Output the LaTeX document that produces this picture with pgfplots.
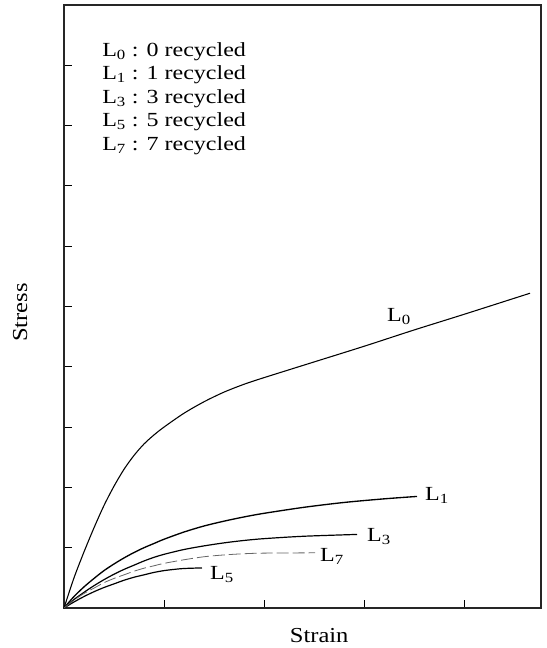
\documentclass[border=0pt]{standalone}
\usepackage{fontspec}
\setmainfont{Liberation Serif}
\newfontfamily\widefont[FakeStretch=1.2]{Liberation Serif}
\newfontfamily\titlefont[FakeStretch=1.15]{Liberation Serif}
\usepackage{pgfplots}
\pgfplotsset{compat=1.18}

% one drawing unit = 0.75pt
\newcommand{\lbl}{\widefont\fontsize{15}{18}\selectfont}
\newcommand{\axl}{\titlefont\fontsize{16}{19}\selectfont}

\begin{document}
\begin{tikzpicture}
% page extent around the axis box
\path (-48pt,-30pt) rectangle (361.5pt,456pt);
\begin{axis}[
  scale only axis,
  width=357.75pt, height=452.25pt,
  xmin=0, xmax=4.77, ymin=0, ymax=10,
  axis line style={line width=0.8pt, black!85},
  xtick={1,2,3,4}, ytick={1,2,3,4,5,6,7,8,9},
  xticklabels={}, yticklabels={},
  xtick pos=bottom, ytick pos=left,
  tick align=inside,
  major tick length=6pt,
  tick style={line width=0.7pt, black},
  clip=false,
]
% stress-strain curves
\addplot[black, line width=0.8pt, smooth] coordinates {
  (0,0) (0.1,0.50) (0.2,0.93) (0.3,1.33) (0.4,1.70) (0.5,2.02)
  (0.6,2.30) (0.7,2.53) (0.8,2.72) (0.9,2.87) (1.0,3.00) (1.2,3.23)
  (1.4,3.42) (1.6,3.58) (1.8,3.71) (2.0,3.82) (2.5,4.08) (3.0,4.34)
  (3.5,4.61) (4.0,4.87) (4.66,5.22)};
\addplot[black, line width=1pt, smooth] coordinates {
  (0,0) (0.1,0.19) (0.2,0.35) (0.3,0.49) (0.4,0.62) (0.5,0.73)
  (0.6,0.83) (0.7,0.92) (0.8,1.00) (0.9,1.07) (1.0,1.14) (1.2,1.26)
  (1.4,1.36) (1.6,1.44) (1.8,1.51) (2.0,1.57) (2.4,1.67) (2.8,1.75)
  (3.2,1.81) (3.53,1.85)};
\addplot[black, line width=0.9pt, smooth] coordinates {
  (0,0) (0.1,0.14) (0.2,0.26) (0.3,0.37) (0.4,0.47) (0.5,0.56)
  (0.6,0.64) (0.7,0.71) (0.8,0.78) (0.9,0.84) (1.0,0.89) (1.2,0.97)
  (1.4,1.03) (1.6,1.08) (1.8,1.12) (2.0,1.15) (2.4,1.19) (2.93,1.22)};
\addplot[black, line width=0.9pt, smooth] coordinates {
  (0,0) (0.1,0.10) (0.2,0.19) (0.3,0.27) (0.4,0.34) (0.5,0.40)
  (0.6,0.46) (0.7,0.51) (0.8,0.55) (0.9,0.59) (1.0,0.62) (1.1,0.64)
  (1.2,0.655) (1.38,0.665)};
\addplot[black!60, line width=0.6pt, smooth, dash pattern=on 9pt off 3pt] coordinates {
  (0,0) (0.1,0.13) (0.2,0.24) (0.3,0.33) (0.4,0.42) (0.5,0.49)
  (0.6,0.55) (0.7,0.61) (0.8,0.66) (0.9,0.70) (1.0,0.74) (1.2,0.80)
  (1.4,0.85) (1.6,0.88) (1.8,0.90) (2.0,0.91) (2.51,0.915)};

% curve labels
\node[font=\lbl] at (axis cs:3.35,4.84) {L\textsubscript{0}};
\node[font=\lbl] at (axis cs:3.73,1.86) {L\textsubscript{1}};
\node[font=\lbl] at (axis cs:3.15,1.18) {L\textsubscript{3}};
\node[font=\lbl] at (axis cs:1.58,0.55) {L\textsubscript{5}};
\node[font=\lbl] at (axis cs:2.68,0.85) {L\textsubscript{7}};

% key
\node[font=\lbl, anchor=base west, inner sep=0pt] at (axis cs:0.38,9.15) {L\textsubscript{0} : 0 recycled};
\node[font=\lbl, anchor=base west, inner sep=0pt] at (axis cs:0.38,8.76) {L\textsubscript{1} : 1 recycled};
\node[font=\lbl, anchor=base west, inner sep=0pt] at (axis cs:0.38,8.37) {L\textsubscript{3} : 3 recycled};
\node[font=\lbl, anchor=base west, inner sep=0pt] at (axis cs:0.38,7.98) {L\textsubscript{5} : 5 recycled};
\node[font=\lbl, anchor=base west, inner sep=0pt] at (axis cs:0.38,7.59) {L\textsubscript{7} : 7 recycled};

% axis titles
\node[font=\axl, anchor=base] at (rel axis cs:0.535,-0.058) {Strain};
\node[font=\axl, rotate=90] at (rel axis cs:-0.092,0.49) {Stress};
\end{axis}
\end{tikzpicture}
\end{document}
